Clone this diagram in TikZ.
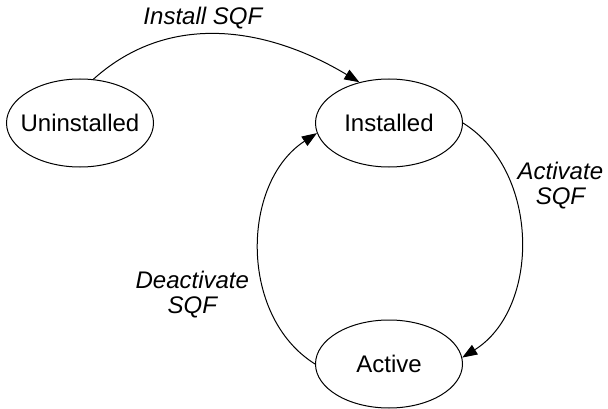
\documentclass[tikz,border=0pt]{standalone}
\usepackage{fontspec}
\setmainfont{Liberation Sans}
\usepackage{tikz}
\usetikzlibrary{shapes,arrows.meta,positioning,calc}

\begin{document}
\begin{tikzpicture}[
    x=1pt, y=1pt,
    node distance=160pt,
    state/.style={ellipse, draw, line width=1pt, inner xsep=-10pt, inner ysep=0pt, minimum width=147pt, minimum height=88pt, font=\fontsize{24}{26}\selectfont},
    trans/.style={-{Triangle[length=15pt,width=11pt]}, line width=1pt},
    lbl/.style={font=\itshape\fontsize{24}{25}\selectfont, align=center}
]
\useasboundingbox (0,0) rectangle (608,408);
\node[state] (uninst) at (80,285) {Uninstalled};
\node[state, right=161pt of uninst] (inst) {Installed};
\node[state, below=152pt of inst] (active) {Active};

\draw[trans] (uninst.73) to[out=42, in=149] node[pos=0.43, above=1pt, lbl] (lblinstall) {Install SQF} (inst.126);
\draw[trans] (inst.east) to[out=-32, in=32] node[pos=0.3, right=2pt, lbl] (lblact) {Activate\\SQF} (active.5);
\draw[trans] (active.west) to[out=148, in=-147] node[pos=0.33, left=12pt, lbl] (lbldeact) {Deactivate\\SQF} (inst.188);
\end{tikzpicture}
\end{document}
